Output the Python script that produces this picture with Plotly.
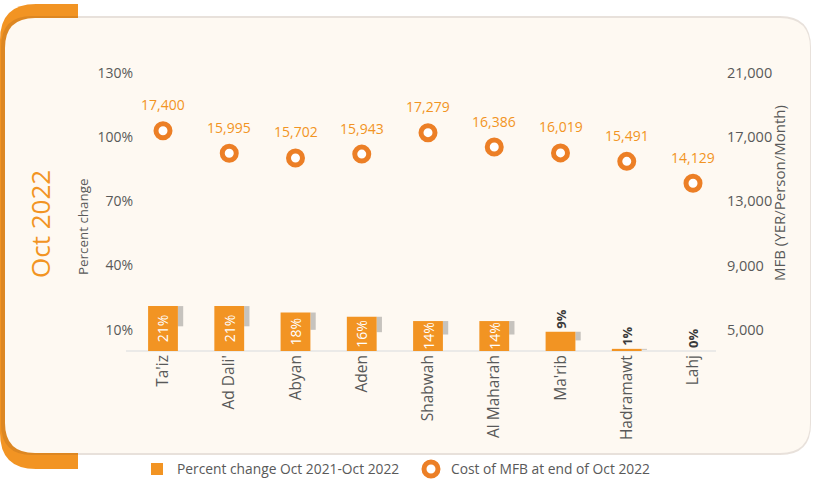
import plotly.graph_objects as go

regions = ["Ta'iz", "Ad Dali'", "Abyan", "Aden", "Shabwah", "Al Maharah", "Ma'rib", "Hadramawt", "Lahj"]
pct_change = [21, 21, 18, 16, 14, 14, 9, 1, 0]
mfb_cost = [17400, 15995, 15702, 15943, 17279, 16386, 16019, 15491, 14129]
left_ticks = [10, 40, 70, 100, 130]
right_ticks = [5000, 9000, 13000, 17000, 21000]

W, H = 820, 482
ML, MR, MT, MB = 134, 94, 73, 131
PW, PH = W - ML - MR, H - MT - MB

ORANGE = "#F29423"
RING = "#EC7F26"
GREY = "#595959"
FONT = "Open Sans"


def px(x):
    return (x - ML) / PW


def py(y):
    return (H - MB - y) / PH


def rrect(x0, y0, x1, y1, r):
    pts = [
        f"M{px(x0 + r)},{py(y0)}",
        f"L{px(x1 - r)},{py(y0)}",
        f"Q{px(x1)},{py(y0)} {px(x1)},{py(y0 + r)}",
        f"L{px(x1)},{py(y1 - r)}",
        f"Q{px(x1)},{py(y1)} {px(x1 - r)},{py(y1)}",
        f"L{px(x0 + r)},{py(y1)}",
        f"Q{px(x0)},{py(y1)} {px(x0)},{py(y1 - r)}",
        f"L{px(x0)},{py(y0 + r)}",
        f"Q{px(x0)},{py(y0)} {px(x0 + r)},{py(y0)}",
        "Z",
    ]
    return " ".join(pts)


def left_bracket(x0, y0, x1, y1, r):
    pts = [
        f"M{px(x1)},{py(y0)}",
        f"L{px(x0 + r)},{py(y0)}",
        f"Q{px(x0)},{py(y0)} {px(x0)},{py(y0 + r)}",
        f"L{px(x0)},{py(y1 - r)}",
        f"Q{px(x0)},{py(y1)} {px(x0 + r)},{py(y1)}",
        f"L{px(x1)},{py(y1)}",
        "Z",
    ]
    return " ".join(pts)


shapes = [
    dict(type="path", xref="paper", yref="paper", layer="below",
         path=left_bracket(0, 4, 78, 469, 36), fillcolor=ORANGE, line=dict(width=0)),
    dict(type="path", xref="paper", yref="paper", layer="below",
         path=rrect(1, 16, 811, 455, 31), fillcolor="rgba(110,70,30,0.16)", line=dict(width=0)),
    dict(type="path", xref="paper", yref="paper", layer="below",
         path=rrect(5, 18, 810, 453, 30), fillcolor="#FEF9F2", line=dict(width=0)),
    dict(type="line", xref="paper", yref="paper", layer="below",
         x0=px(126), x1=px(716), y0=0, y1=0, line=dict(color="#E4E4E4", width=1.5)),
]

fig = go.Figure()

# soft bar shadow
fig.add_trace(go.Bar(
    x=regions, y=[v * 0.45 for v in pct_change], base=[v * 0.55 for v in pct_change],
    width=0.08, offset=0.225, marker=dict(color="rgba(70,70,70,0.3)", line=dict(width=0)),
    showlegend=False, hoverinfo="skip",
))

fig.add_trace(go.Bar(
    x=regions, y=pct_change, name="Percent change Oct 2021-Oct 2022",
    width=0.45, offset=-0.225,
    marker=dict(color=ORANGE, line=dict(width=0)),
    text=[f"{v}%" for v in pct_change],
    textposition=["inside"] * 6 + ["outside"] * 3,
    textangle=-90, insidetextanchor="middle", constraintext="none",
    insidetextfont=dict(color="white", size=14, family=FONT),
    outsidetextfont=dict(color="#3a3a3a", size=13, family=FONT, weight=700),
    cliponaxis=False,
))

fig.add_trace(go.Scatter(
    x=regions, y=mfb_cost, yaxis="y2", mode="markers",
    name="Cost of MFB at end of Oct 2022",
    marker=dict(size=14, color="white", line=dict(color=RING, width=5)),
    cliponaxis=False,
))

annotations = [
    dict(x=r, y=c, xref="x", yref="y2", text=f"{c:,}", showarrow=False, yshift=26,
         xanchor="center", yanchor="middle",
         font=dict(color=ORANGE, size=14, family=FONT))
    for r, c in zip(regions, mfb_cost)
]
annotations += [
    dict(x=px(40), y=py(224), xref="paper", yref="paper", text="Oct 2022", textangle=-90,
         xanchor="center", yanchor="middle",
         showarrow=False, font=dict(color=ORANGE, size=26, family=FONT)),
    dict(x=px(83), y=py(227), xref="paper", yref="paper", text="Percent change", textangle=-90,
         xanchor="center", yanchor="middle",
         showarrow=False, font=dict(color=GREY, size=13.4, family=FONT)),
    dict(x=px(779), y=py(193), xref="paper", yref="paper", text="MFB (YER/Person/Month)",
         textangle=-90, xanchor="center", yanchor="middle",
         showarrow=False, font=dict(color=GREY, size=15, family=FONT)),
]

fig.update_layout(
    width=W, height=H,
    margin=dict(l=ML, r=MR, t=MT, b=MB, autoexpand=False),
    paper_bgcolor="white", plot_bgcolor="rgba(0,0,0,0)",
    font=dict(family=FONT, color=GREY, size=13),
    barmode="overlay",
    shapes=shapes,
    annotations=annotations,
    showlegend=True,
    legend=dict(orientation="h", x=px(137), y=py(469), xanchor="left", yanchor="middle",
                entrywidth=229, entrywidthmode="pixels",
                font=dict(size=13.8, color=GREY, family=FONT), bgcolor="rgba(0,0,0,0)"),
    xaxis=dict(type="category", range=[-0.4377, 8.498], tickangle=-90, showline=False,
               automargin=False,
               showgrid=False, zeroline=False, ticks="", tickfont=dict(size=15.5, color=GREY)),
    yaxis=dict(range=[0, 130], tickvals=left_ticks, ticktext=[f"{t}%" for t in left_ticks],
               automargin=False,
               showgrid=False, zeroline=False, showline=False, ticks="",
               tickfont=dict(size=14, color=GREY)),
    yaxis2=dict(overlaying="y", side="right", range=[3666.67, 21000], tickvals=right_ticks,
                automargin=False,
                ticktext=[f"{t:,}" for t in right_ticks], showgrid=False, zeroline=False,
                showline=False, ticks="", tickfont=dict(size=14.5, color=GREY)),
)

fig.write_html(
    "out.html",
    config={"displayModeBar": False},
    post_script="document.body.style.margin='0';document.body.style.overflow='hidden';",
)
